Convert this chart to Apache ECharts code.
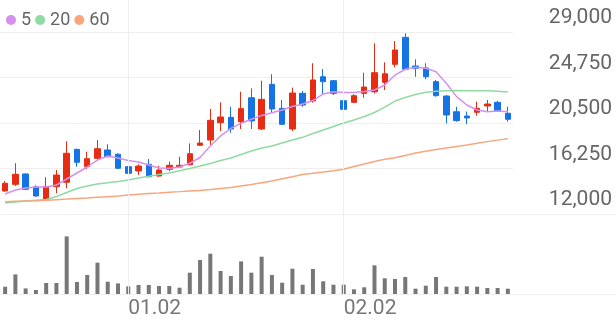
<!DOCTYPE html>
<html>
<head>
<meta charset="utf-8">
<script src="https://cdn.jsdelivr.net/npm/echarts@6/dist/echarts.min.js"></script>
<style>
html,body{margin:0;padding:0;background:#fff;}
#chart{width:616px;height:321px;}
</style>
</head>
<body>
<div id="chart"></div>
<script>
// ---- data ----
var categories = ['12.14','12.15','12.16','12.19','12.20','12.21','12.22','12.23','12.26','12.27','12.28','12.29',
  '01.02','01.03','01.04','01.05','01.06','01.09','01.10','01.11','01.12','01.13','01.16','01.17','01.18','01.19','01.20',
  '01.25','01.26','01.27','01.30','01.31','02.01','02.02','02.03','02.06','02.07','02.08','02.09','02.10','02.13','02.14',
  '02.15','02.16','02.17','02.20','02.21','02.22','02.23','02.24'];
var shownDates = ['01.02','02.02'];
var priceTicks = [12000, 16250, 20500, 24750, 29000];

var openPrices  = [14150,14770,15740,14520,13280,14550,14960,18040,16420,17200,17980,17580,16420,16020,16640,15550,16180,16390,16600,18420,
  18910,20530,21030,20620,22860,19940,24110,21870,19940,23270,22550,24820,24450,22580,22430,23270,23420,24300,25980,28500,
  25820,25640,24360,23020,21550,21150,21500,22090,22430,21410];
var closePrices = [14870,15710,14310,13680,14550,15640,17670,16830,17170,18100,17350,16270,15800,16480,15480,16110,16550,16550,17630,18630,
  20750,21060,19940,21840,20690,22710,21810,20380,23300,22180,24520,24360,23270,21780,23050,23860,25200,25100,27320,25520,
  25610,24820,23050,21250,20720,20970,21870,22270,21650,20850];
var lowPrices   = [14080,14620,14240,13620,13210,13930,14400,16420,16200,17110,17300,16200,15710,15640,15430,15480,16020,16360,16550,18350,
  18450,19750,19590,19940,19940,19850,21500,20310,19750,22020,22400,23180,23120,21410,22400,22860,23270,23580,25700,25450,
  24820,24580,22960,20470,20620,20380,21180,21560,21560,20620];
var highPrices  = [15080,16740,15800,14680,15430,16110,18790,18100,17820,18910,18510,17670,16510,16640,17140,16510,16890,17350,18600,19850,
  21810,22430,22020,23420,23740,24450,25050,22650,23800,23490,26080,25540,24520,22740,23180,25200,27940,26170,28160,28880,
  26450,26080,24520,23120,22020,21560,22490,22650,22550,22020];

var ma5  = [13870,14240,14430,14520,14520,14710,15270,15830,16390,17040,17420,17230,17000,16860,16580,16300,16270,16390,16740,17280,
  18350,19290,20000,20470,20850,21200,21460,21710,22040,22270,22600,23210,23420,23350,23350,23440,23580,24050,24980,25520,
  25700,25610,25290,24210,22960,22180,21710,21560,21620,21560];
var ma20 = [13030,13120,13210,13280,13350,13640,14010,14380,14620,14800,14920,15040,15180,15360,15520,15690,15830,16040,16250,16480,
  16720,17000,17230,17560,17880,18160,18350,18630,18910,19160,19520,19850,20170,20500,20780,21110,21480,21990,22550,22880,
  23160,23370,23470,23520,23540,23520,23520,23520,23460,23400];
var ma60 = [13150,13180,13210,13230,13280,13340,13390,13450,13500,13560,13620,13680,13770,13840,13910,13970,14040,14090,14150,14190,
  14280,14380,14480,14620,14760,14920,15080,15290,15470,15680,15800,15920,16050,16180,16440,16670,16900,17110,17250,17460,
  17700,17870,18020,18160,18310,18450,18600,18760,18900,19030];

var volumes = [73000,196000,56000,40000,110000,110000,576000,120000,190000,313000,123000,106000,76000,90000,90000,80000,80000,63000,213000,340000,
  403000,230000,180000,326000,213000,373000,190000,113000,253000,93000,250000,127000,93000,93000,47000,67000,287000,157000,150000,170000,
  53000,83000,170000,73000,73000,77000,73000,60000,60000,53000];

// ---- build ----
var candleData = openPrices.map(function(o, i){ return [o, closePrices[i], lowPrices[i], highPrices[i]]; });
function fmt(v){ return String(v).replace(/\B(?=(\d{3})+(?!\d))/g, ','); }
var FONT = 'Roboto';
var GRID_LINE = '#efefef';
var UP = '#e62d14', DOWN = '#1673e6';
var C5 = '#d590ee', C20 = '#8fdba1', C60 = '#f9a57e';

var chart = echarts.init(document.getElementById('chart'), null, {renderer: 'canvas'});
chart.setOption({
  animation: false,
  backgroundColor: '#fff',
  legend: {
    left: 1, top: 6,
    icon: 'circle', itemWidth: 10, itemHeight: 10, itemGap: 4,
    textStyle: {fontFamily: FONT, fontSize: 18, color: '#666'},
    data: ['5', '20', '60']
  },
  grid: [
    {left: 0, width: 513, top: 32, height: 182},   // price
    {left: 0, width: 513, top: 220, height: 74},   // volume
    {left: 0, width: 513, top: 0, height: 294},    // vertical date lines
    {left: 0, right: 0, top: 214, height: 80}      // full-width separators
  ],
  xAxis: [
    {type: 'category', gridIndex: 0, data: categories, show: false, boundaryGap: true},
    {type: 'category', gridIndex: 1, data: categories, boundaryGap: true,
      axisLine: {show: false}, axisTick: {show: false}, splitLine: {show: false},
      axisLabel: {
        interval: function(idx, val){ return shownDates.indexOf(val) >= 0; },
        align: 'left', margin: 4, lineHeight: 21,
        fontFamily: FONT, fontSize: 21, color: '#777'
      }},
    {type: 'category', gridIndex: 2, data: categories, show: false, boundaryGap: true},
    {type: 'value', gridIndex: 3, min: 0, max: 1, show: false}
  ],
  yAxis: [
    {type: 'value', gridIndex: 0, position: 'right', min: priceTicks[0], max: priceTicks[priceTicks.length-1],
      interval: priceTicks[1] - priceTicks[0],
      axisLine: {show: false}, axisTick: {show: false},
      splitLine: {show: true, lineStyle: {color: GRID_LINE, width: 1}},
      axisLabel: {
        align: 'right', margin: 99, verticalAlign: 'bottom', lineHeight: 28,
        fontFamily: FONT, fontSize: 21, color: '#666',
        formatter: function(v){ return fmt(v); }
      }},
    {type: 'value', gridIndex: 1, min: 0, max: 740000, show: false},
    {type: 'value', gridIndex: 2, min: 0, max: 1, show: false},
    {type: 'value', gridIndex: 3, min: 0, max: 1, interval: 1, show: true,
      axisLine: {show: false}, axisTick: {show: false}, axisLabel: {show: false},
      splitLine: {show: true, lineStyle: {color: GRID_LINE, width: 1}}}
  ],
  series: [
    {type: 'line', xAxisIndex: 2, yAxisIndex: 2, data: [], z: 0, silent: true,
      markLine: {
        symbol: 'none', silent: true, label: {show: false},
        lineStyle: {color: GRID_LINE, type: 'solid', width: 1},
        data: shownDates.map(function(d){ return {xAxis: categories.indexOf(d)}; })
      }},
    {type: 'line', xAxisIndex: 3, yAxisIndex: 3, data: [], silent: true},
    {name: 'candle', type: 'candlestick', xAxisIndex: 0, yAxisIndex: 0, data: candleData, barWidth: 6,
      itemStyle: {color: UP, color0: DOWN, borderColor: UP, borderColor0: DOWN, borderWidth: 1}},
    {name: '5', type: 'line', xAxisIndex: 0, yAxisIndex: 0, data: ma5, showSymbol: false, symbol: 'circle',
      lineStyle: {color: C5, width: 1.5}, itemStyle: {color: C5}},
    {name: '20', type: 'line', xAxisIndex: 0, yAxisIndex: 0, data: ma20, showSymbol: false, symbol: 'circle',
      lineStyle: {color: C20, width: 1.5}, itemStyle: {color: C20}},
    {name: '60', type: 'line', xAxisIndex: 0, yAxisIndex: 0, data: ma60, showSymbol: false, symbol: 'circle',
      lineStyle: {color: C60, width: 1.5}, itemStyle: {color: C60}},
    {name: 'volume', type: 'bar', xAxisIndex: 1, yAxisIndex: 1, data: volumes, barWidth: 4,
      itemStyle: {color: '#777'}}
  ]
});
</script>
</body>
</html>
